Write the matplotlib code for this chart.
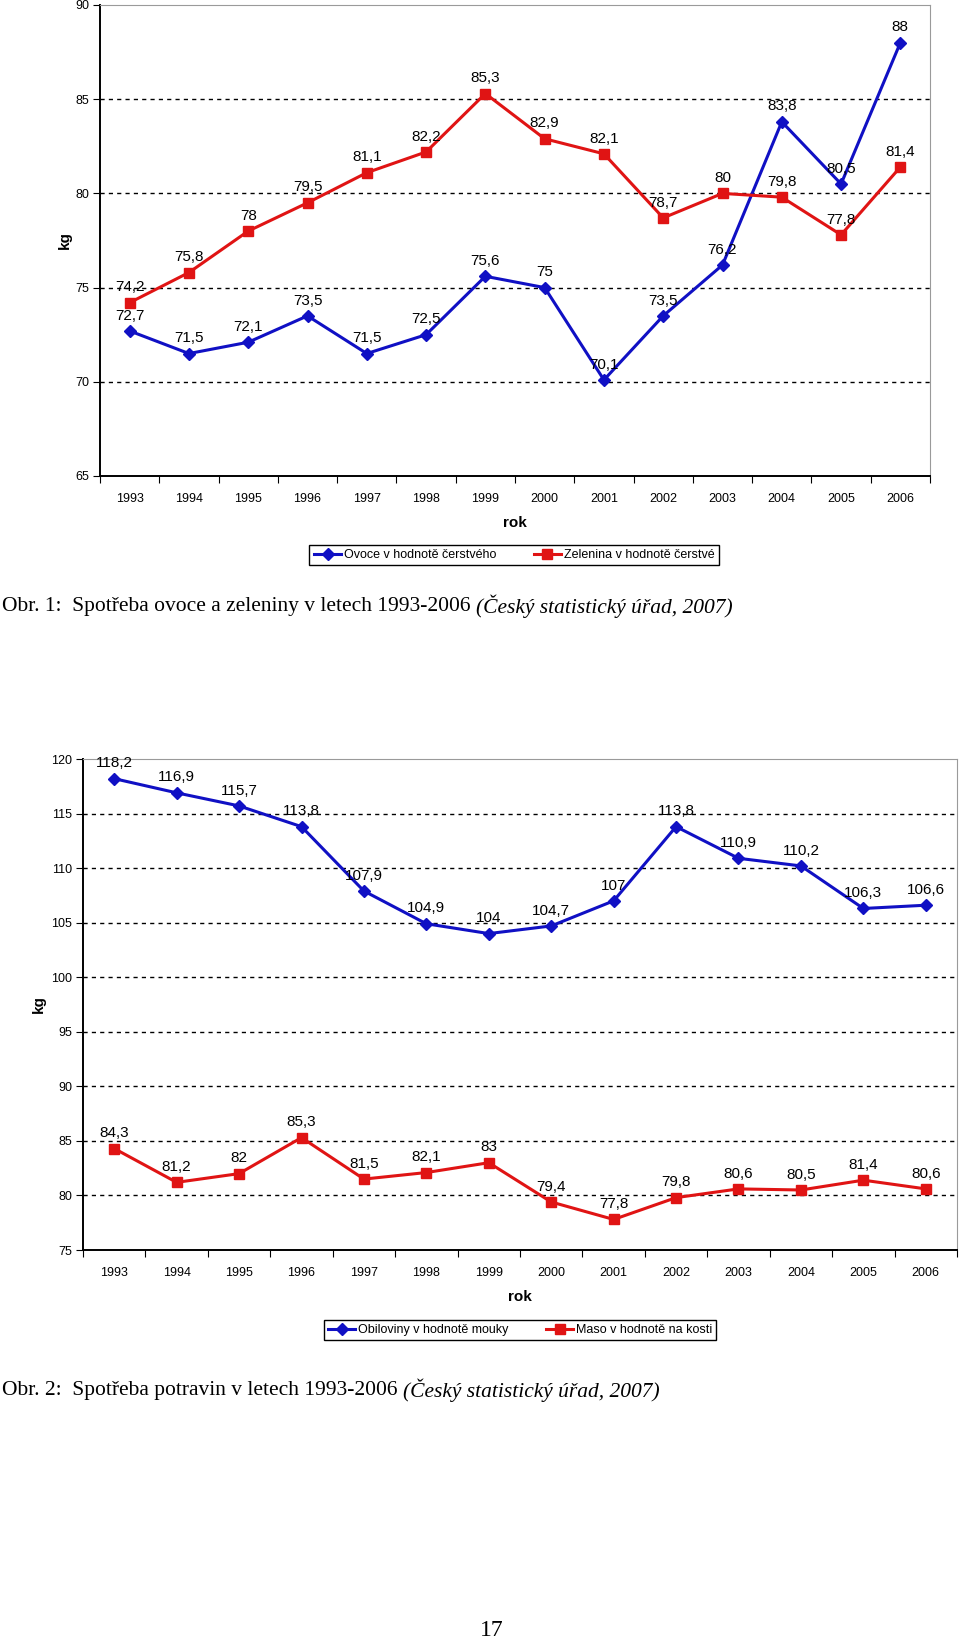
import numpy as np
import matplotlib.pyplot as plt
from matplotlib import font_manager

years = [str(y) for y in range(1993, 2007)]

# Obr. 1
ovoce = [72.7, 71.5, 72.1, 73.5, 71.5, 72.5, 75.6, 75, 70.1, 73.5, 76.2, 83.8, 80.5, 88]
zelenina = [74.2, 75.8, 78, 79.5, 81.1, 82.2, 85.3, 82.9, 82.1, 78.7, 80, 79.8, 77.8, 81.4]

# Obr. 2
obiloviny = [118.2, 116.9, 115.7, 113.8, 107.9, 104.9, 104, 104.7, 107, 113.8, 110.9, 110.2, 106.3, 106.6]
maso = [84.3, 81.2, 82, 85.3, 81.5, 82.1, 83, 79.4, 77.8, 79.8, 80.6, 80.5, 81.4, 80.6]

names1 = ["Ovoce v hodnotě čerstvého", "Zelenina v hodnotě čerstvé"]
names2 = ["Obiloviny v hodnotě mouky", "Maso v hodnotě na kosti"]

available = {f.name for f in font_manager.fontManager.ttflist}
sans = "Liberation Sans Narrow" if "Liberation Sans Narrow" in available else "Liberation Sans"
serif = "Liberation Serif"

BLUE = "#1010C4"
RED = "#E01414"


def fmt(v):
    s = ("%.1f" % v).rstrip("0").rstrip(".")
    return s.replace(".", ",")


def draw(ax, s1, s2, ylim, names, legend_center):
    x = np.arange(len(years))
    l1, = ax.plot(x, s1, color=BLUE, lw=2.2, marker="D", ms=6, label=names[0])
    l2, = ax.plot(x, s2, color=RED, lw=2.2, marker="s", ms=7, label=names[1])
    for xs, ys in ((x, s1), (x, s2)):
        for xi, yi in zip(xs, ys):
            ax.annotate(fmt(yi), (xi, yi), xytext=(0, 6), textcoords="offset points",
                        ha="center", va="bottom", fontsize=11, family=sans)
    ax.set_xlim(-0.5, len(years) - 0.5)
    ax.set_ylim(*ylim)
    ax.set_yticks(np.arange(ylim[0], ylim[1] + 1, 5))
    for g in np.arange(ylim[0] + 5, ylim[1], 5):
        ax.axhline(g, color="black", lw=1, ls=(0, (3, 3)), zorder=0)
    ax.set_xticks(np.arange(-0.5, len(years), 1))
    ax.set_xticklabels([])
    ax.set_xticks(x, minor=True)
    ax.set_xticklabels(years, minor=True, fontsize=9, family=sans)
    ax.tick_params(axis="x", which="minor", length=0, pad=12)
    ax.tick_params(axis="x", which="major", length=5, direction="out")
    ax.tick_params(axis="y", length=5, labelsize=9, pad=3)
    for lab in ax.get_yticklabels():
        lab.set_family(sans)
    ax.spines["top"].set_color("#9a9a9a")
    ax.spines["right"].set_color("#9a9a9a")
    ax.spines["left"].set_linewidth(1.4)
    ax.spines["bottom"].set_linewidth(1.4)
    ax.set_xlabel("rok", fontsize=11, fontweight="bold", family=sans, labelpad=8)
    ax.set_ylabel("kg", fontsize=11, fontweight="bold", family=sans)
    leg = ax.figure.legend(handles=[l1, l2], loc="center", ncol=2,
                           bbox_to_anchor=legend_center, bbox_transform=ax.figure.transFigure,
                           fancybox=False, edgecolor="black", framealpha=1,
                           prop={"family": sans, "size": 9}, handlelength=2.2,
                           columnspacing=3, borderpad=0.35, handletextpad=0.2)
    leg.get_frame().set_linewidth(1.0)


W, H = 960, 1644
fig = plt.figure(figsize=(W / 100, H / 100), dpi=100)

ax1 = fig.add_axes([100 / W, 1 - 476 / H, 830 / W, 471 / H])
draw(ax1, ovoce, zelenina, (65, 90), names1, (514 / W, 1 - 555 / H))
ax1.yaxis.set_label_coords(-0.034, 0.5)

ax2 = fig.add_axes([83 / W, 1 - 1250 / H, 874 / W, 491 / H])
draw(ax2, obiloviny, maso, (75, 120), names2, (520 / W, 1 - 1330 / H))
ax2.yaxis.set_label_coords(-0.042, 0.5)

# captions: upright part followed by the italic source
for y, txt in ((606, "Obr. 1:  Spotřeba ovoce a zeleniny v letech 1993-2006 "),
               (1390, "Obr. 2:  Spotřeba potravin v letech 1993-2006 ")):
    cap = fig.text(2 / W, 1 - y / H, txt, fontsize=15.5, family=serif, va="center", ha="left")
    fig.canvas.draw()
    bb = cap.get_window_extent()
    fig.text(bb.x1 / W, 1 - y / H, "(Český statistický úřad, 2007)",
             fontsize=15.5, family=serif, style="italic", va="center", ha="left")

fig.text(492 / W, 1 - 1630 / H, "17", fontsize=17, family=serif, ha="center", va="center")

fig.savefig("out.png", dpi=100)
